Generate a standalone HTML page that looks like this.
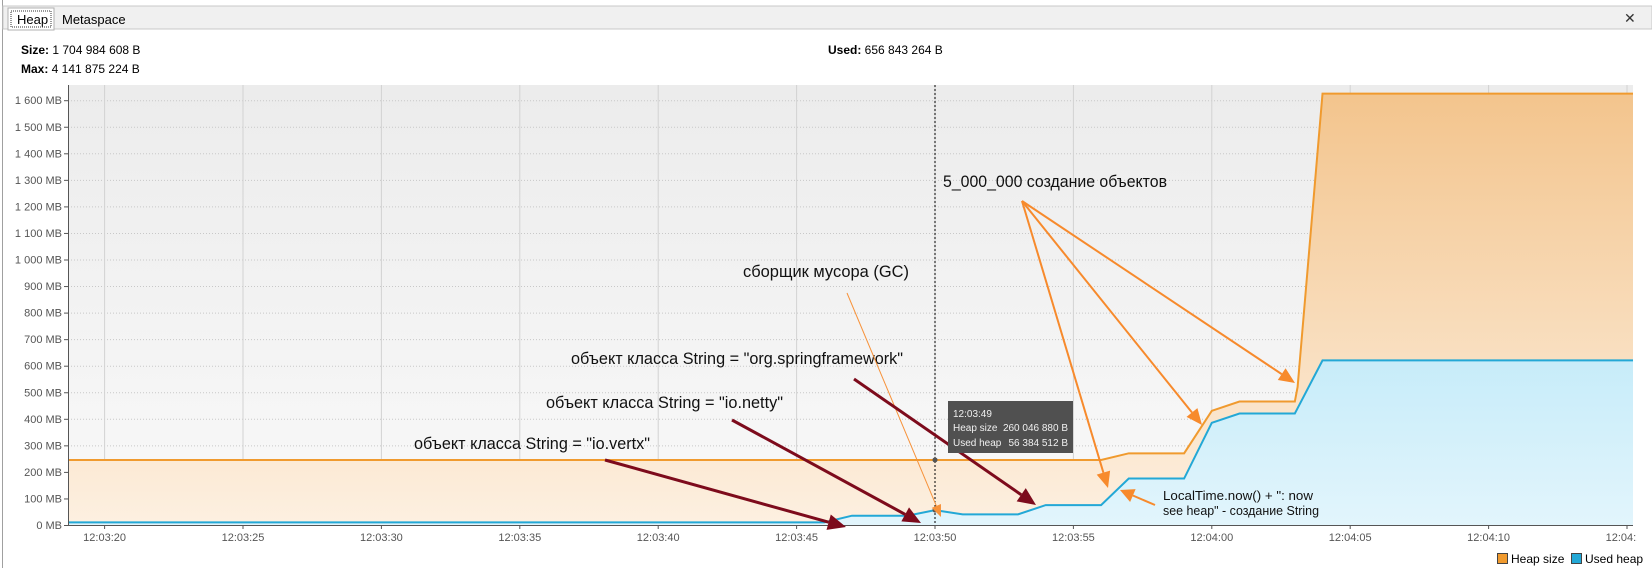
<!DOCTYPE html>
<html><head><meta charset="utf-8"><style>
body{margin:0;width:1652px;height:568px;overflow:hidden;background:#fff;font-family:"Liberation Sans","DejaVu Sans",sans-serif;}
svg{position:absolute;left:0;top:0}
</style></head><body>
<svg id="c" width="1652" height="568" xmlns="http://www.w3.org/2000/svg">
<defs>
<linearGradient id="bg" x1="0" y1="85" x2="0" y2="525" gradientUnits="userSpaceOnUse"><stop offset="0" stop-color="#ececec"/><stop offset="1" stop-color="#f9f9f9"/></linearGradient>
<linearGradient id="og" x1="0" y1="100" x2="0" y2="525" gradientUnits="userSpaceOnUse"><stop offset="0" stop-color="#f3c58e"/><stop offset="1" stop-color="#fdf0e1"/></linearGradient>
<linearGradient id="bgr" x1="0" y1="360" x2="0" y2="525" gradientUnits="userSpaceOnUse"><stop offset="0" stop-color="#c7ecf9"/><stop offset="1" stop-color="#e2f5fc"/></linearGradient>
<clipPath id="xclip"><rect x="0" y="0" width="1637" height="568"/></clipPath>
</defs>
<rect x="0" y="0" width="1652" height="568" fill="#fff"/>
<line x1="2.5" y1="0" x2="2.5" y2="568" stroke="#a0a0a0"/>
<g>
<rect x="3" y="6" width="1649" height="23" fill="#f0f0f0" stroke="#c8c8c8"/>
<rect x="8" y="8" width="46" height="22" fill="#fff" stroke="#b0b0b0"/>
<rect x="11" y="11" width="40" height="16" fill="none" stroke="#333" stroke-dasharray="1,1"/>
<text x="17" y="24" font-size="13" fill="#000">Heap</text>
<text x="62" y="24" font-size="13" fill="#000">Metaspace</text>
<text x="1624" y="23" font-size="14" fill="#333">✕</text>
</g>
<text x="21" y="54" font-size="12" fill="#000"><tspan font-weight="bold">Size:</tspan> 1 704 984 608 B</text>
<text x="21" y="73" font-size="12" fill="#000"><tspan font-weight="bold">Max:</tspan> 4 141 875 224 B</text>
<text x="828" y="54" font-size="12" fill="#000"><tspan font-weight="bold">Used:</tspan> 656 843 264 B</text>
<rect x="68" y="85" width="1565" height="440" fill="url(#bg)"/>
<g id="grid"></g><g id="series"></g><g id="axes" clip-path="url(#xclip)"></g>
<g id="ann" font-family="'Liberation Sans','DejaVu Sans',sans-serif"></g>
<g>
<rect x="1497.5" y="553.5" width="10" height="10" fill="#f09a2e" stroke="#444"/>
<text x="1511" y="563" font-size="12" fill="#000">Heap size</text>
<rect x="1571.5" y="553.5" width="10" height="10" fill="#23a8d6" stroke="#444"/>
<text x="1585" y="563" font-size="12" fill="#000">Used heap</text>
</g>
</svg>
<script>
const times=[18.6,46,47,49,50,51,53,54,56,57,59,60,61,63,63.1,64,75.3];
const heapSize=[245,245,245,245,245,245,245,245,245,270,270,430,465,465,520,1625,1625];
const usedHeap=[10,10,35,35,56,40,40,75,75,175,175,385,420,420,440,620,620];
const yTicks=[0,100,200,300,400,500,600,700,800,900,1000,1100,1200,1300,1400,1500,1600];
const yTickLabels=["0 MB","100 MB","200 MB","300 MB","400 MB","500 MB","600 MB","700 MB","800 MB","900 MB","1 000 MB","1 100 MB","1 200 MB","1 300 MB","1 400 MB","1 500 MB","1 600 MB"];
const xTicks=[20,25,30,35,40,45,50,55,60,65,70,75];
const xTickLabels=["12:03:20","12:03:25","12:03:30","12:03:35","12:03:40","12:03:45","12:03:50","12:03:55","12:04:00","12:04:05","12:04:10","12:04:15"];
const hoverTime=50;
const NS="http://www.w3.org/2000/svg";
const L=68,R=1633,T=85,B=525;
const x=t=>935+(t-50)*27.68;
const y=v=>B-v*0.2655;
function mk(p,tag,a){const e=document.createElementNS(NS,tag);for(const k in a)e.setAttribute(k,a[k]);p.appendChild(e);return e;}
const grid=document.getElementById('grid'),ser=document.getElementById('series'),ax=document.getElementById('axes'),ann=document.getElementById('ann');
yTicks.forEach((v,i)=>{
 const g=mk(grid,'line',{x1:L,x2:R,y1:y(v)+.5,y2:y(v)+.5,stroke:'#c8c8c8','stroke-dasharray':'1,2'});
 
 
 mk(ax,'line',{x1:L-4,x2:L,y1:y(v)+.5,y2:y(v)+.5,stroke:'#555'});
 const t=mk(ax,'text',{x:L-6,y:y(v)+4,'font-size':11,fill:'#555','text-anchor':'end'});t.textContent=yTickLabels[i];
 
 
});
xTicks.forEach((v,i)=>{
 const xx=x(v);if(xx<L||xx>R+2)return;
 const g=mk(grid,'line',{x1:xx,x2:xx,y1:T,y2:B,stroke:'#d2d2d2'});
 
 
 mk(ax,'line',{x1:xx,x2:xx,y1:B,y2:B+4,stroke:'#555'});
 const t=mk(ax,'text',{x:xx,y:541,'font-size':11,fill:'#555','text-anchor':'middle'});t.textContent=xTickLabels[i];
 
 
});
mk(ax,'line',{x1:L+.5,x2:L+.5,y1:T,y2:B,stroke:'#555'});
mk(ax,'line',{x1:L,x2:R,y1:B+.5,y2:B+.5,stroke:'#555'});
function pts(arr){return times.map((t,i)=>Math.min(Math.max(x(t),L),R)+','+y(arr[i])).join(' ');}
const hA=mk(ser,'polygon',{points:L+','+B+' '+pts(heapSize)+' '+R+','+B,fill:'url(#og)'});


const uA=mk(ser,'polygon',{points:L+','+B+' '+pts(usedHeap)+' '+R+','+B,fill:'url(#bgr)'});


const hL=mk(ser,'polyline',{points:pts(heapSize),fill:'none',stroke:'#f09a2e','stroke-width':2});


const uL=mk(ser,'polyline',{points:pts(usedHeap),fill:'none',stroke:'#23a8d6','stroke-width':2});


const hx=x(hoverTime);
const hv=mk(ser,'line',{x1:hx,x2:hx,y1:T,y2:B,stroke:'#000','stroke-dasharray':'2,2'});


const hi=times.indexOf(hoverTime);
mk(ser,'circle',{cx:hx,cy:y(heapSize[hi]),r:2.5,fill:'#555'});
mk(ser,'circle',{cx:hx,cy:y(usedHeap[hi]),r:2.5,fill:'#555'});
function arrow(x1,y1,x2,y2,col,w,hl,hw){
 const a=Math.atan2(y2-y1,x2-x1),bx=x2-hl*Math.cos(a),by=y2-hl*Math.sin(a);
 mk(ann,'line',{x1,y1,x2:bx,y2:by,stroke:col,'stroke-width':w});
 const px=-Math.sin(a)*hw,py=Math.cos(a)*hw;
 mk(ann,'polygon',{points:`${x2},${y2} ${bx+px},${by+py} ${bx-px},${by-py}`,fill:col});
}
function txt(s,xx,yy,fs,len,name){const t=mk(ann,'text',{x:xx,y:yy,'font-size':fs,fill:'#111',textLength:len,lengthAdjust:'spacingAndGlyphs'});t.textContent=s;
 
 }
txt('сборщик мусора (GC)',743,277,17,166,'gc-annotation');
txt('объект класса String = "org.springframework"',571,364,17,332,'spring-annotation');
txt('объект класса String = "io.netty"',546,408,17,237,'netty-annotation');
txt('объект класса String = "io.vertx"',414,449,17,236,'vertx-annotation');
txt('5_000_000 создание объектов',943,187,17,224,'objects-annotation');
txt('LocalTime.now() + ": now',1163,500,13,150,'localtime-annotation-1');
txt('see heap" - создание String',1163,515,13,156,'localtime-annotation-2');
arrow(847,293,941,517,'#f7923a',1,12,5);
const dr='#7d0b1c';
arrow(854,379,1036,505,dr,3,18,8);
arrow(732,420,921,523,dr,3,18,8);
arrow(605,460,846,527,dr,3,18,8);
const oc='#f78a2c';
arrow(1022,201,1108,488,oc,2,16,7);
arrow(1022,201,1202,425,oc,2,16,7);
arrow(1022,201,1295,383,oc,2,16,7);
arrow(1155,505,1120,490,oc,2,14,7);
const tb=mk(ann,'rect',{x:948,y:401,width:125,height:52,fill:'#505050'});


[['12:03:49','',417],['Heap size','260 046 880 B',431],['Used heap','56 384 512 B',446]].forEach(r=>{
 const a=mk(ann,'text',{x:953,y:r[2],'font-size':10,fill:'#f0f0f0'});a.textContent=r[0];
 const b=mk(ann,'text',{x:1068,y:r[2],'font-size':10,fill:'#f0f0f0','text-anchor':'end'});b.textContent=r[1];
});
</script>
</body></html>
